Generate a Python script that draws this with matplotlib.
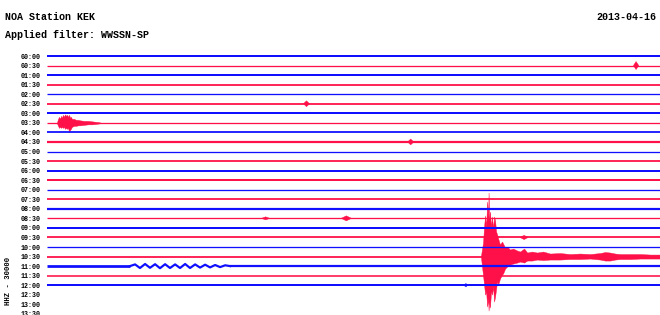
import matplotlib
matplotlib.use("Agg")
import matplotlib.pyplot as plt

# ---------- Data ----------
# one trace per half hour, 00:00 .. 12:00 recorded, labels run to 13:30
row_labels = ["00:00", "00:30", "01:00", "01:30", "02:00", "02:30", "03:00",
              "03:30", "04:00", "04:30", "05:00", "05:30", "06:00", "06:30",
              "07:00", "07:30", "08:00", "08:30", "09:00", "09:30", "10:00",
              "10:30", "11:00", "11:30", "12:00", "12:30", "13:00", "13:30"]
n_traces = 25

# visual noise band of each trace (px)
trace_noise = [2.0, 1.3, 2.0, 1.8, 1.3, 1.8, 2.0, 1.3, 1.8, 2.2, 1.3, 1.8, 2.0,
               2.0, 1.3, 1.8, 2.2, 1.3, 2.0, 1.8, 1.3, 1.8, 2.2, 1.6, 2.0]

# amplitudes below are given in counts where one trace spacing = 9.55
TRACE_STEP = 9.55

# big event on the 10:30 trace (minutes into the row)
quake_t = [21.24, 21.34, 21.39, 21.44, 21.49, 21.54, 21.59, 21.61, 21.64,
           21.68, 21.73, 21.78, 21.83, 21.88, 21.93, 21.98, 22.03, 22.08,
           22.17, 22.27, 22.32, 22.42, 22.52, 22.66, 22.81, 23.01, 23.15,
           23.35, 23.50, 23.74, 23.98, 24.28, 24.62, 25.11, 25.60, 26.09,
           26.58, 27.07, 27.31, 27.56, 27.80, 28.05, 28.54, 29.03, 29.52, 30.0]
quake_up = [1, 14, 30, 41, 30, 55, 40, 64, 38, 45, 30, 40, 28, 40, 36, 25, 22,
            18, 12, 15, 13, 9, 10, 7, 8, 6, 5, 8, 4, 5, 4, 5, 3, 3.5, 2.5, 3,
            2.5, 3.5, 4.5, 4, 3, 2.5, 2.5, 2.5, 2, 2]
quake_down = [1, 19, 28, 38, 35, 50, 42, 54, 45, 51, 35, 38, 30, 45, 40, 32,
              25, 28, 22, 18, 17, 12, 10, 8, 7, 6, 5, 6, 4, 4, 3, 3.5, 3, 3,
              2.5, 2.5, 2, 3, 4, 4, 3, 2.5, 2.5, 2, 2, 2]

# local event on the 03:30 trace
local_t = [0.49, 0.54, 0.59, 0.64, 0.69, 0.73, 0.78, 0.83, 0.88, 0.93, 0.98,
           1.03, 1.08, 1.13, 1.17, 1.22, 1.32, 1.42, 1.52, 1.62, 1.81, 2.01,
           2.20, 2.40, 2.59]
local_up = [0.5, 4, 6, 4, 7, 5, 8, 6, 8.5, 7, 8, 6, 8, 5, 6, 4, 4, 3, 3, 2.5,
            2, 2, 1.5, 1, 0.5]
local_down = [0.5, 3, 5, 4, 5, 4, 5, 4, 6, 5, 6, 5, 9, 7, 6, 4, 3, 3, 2.5,
              2.5, 2, 1.5, 1.5, 1, 0.5]

# small spikes: trace, start, end, amplitude
spike_row = [1, 5, 9, 17, 17, 19, 24]
spike_t0 = [28.70, 12.55, 17.65, 14.40, 10.50, 23.15, 20.40]
spike_t1 = [28.96, 12.85, 17.95, 14.90, 10.90, 23.55, 20.60]
spike_amp = [4.0, 2.9, 2.9, 2.5, 1.5, 2.1, 1.7]

# long-period wiggle on the 11:00 trace
wave_t = [4.06, 4.31, 4.55, 4.80, 5.04, 5.29, 5.53, 5.78, 6.02, 6.27, 6.51,
          6.76, 7.00, 7.25, 7.49, 7.74, 7.98, 8.23, 8.47, 8.72, 8.96]
wave_y = [0.0, 1.7, -1.9, 2.1, -1.7, 1.9, -2.1, 1.9, -1.9, 1.7, -1.9, 2.1,
          -1.9, 1.7, -1.5, 1.4, -1.3, 1.1, -1.0, 0.8, 0.0]

BLUE = "#1010ff"
RED = "#ff1048"
MONO = "Liberation Mono"

fig = plt.figure(figsize=(6.6, 3.15), dpi=100)
ax = fig.add_axes([47 / 660, 0, 613 / 660, 1])
ax.set_xlim(0, 30)
ax.set_ylim(27.12, -5.864)


def scaled(vals):
    return [v / TRACE_STEP for v in vals]


for i in range(n_traces):
    col = BLUE if i % 2 == 0 else RED
    lw = trace_noise[i] * 0.72
    if i == 22:
        ax.plot([0, wave_t[0]], [i, i], color=col, lw=lw + 0.4, solid_capstyle="butt")
        ax.plot(wave_t, [i - v for v in scaled(wave_y)], color=col, lw=lw)
        ax.plot([wave_t[-1], 30], [i, i], color=col, lw=lw, solid_capstyle="butt")
    else:
        ax.plot([0, 30], [i, i], color=col, lw=lw, solid_capstyle="butt")
    if i == 7:
        ax.fill_between(local_t, [i - u for u in scaled(local_up)],
                        [i + d for d in scaled(local_down)], color=col, lw=0.3)
    if i == 21:
        ax.fill_between(quake_t, [i - u for u in scaled(quake_up)],
                        [i + d for d in scaled(quake_down)], color=col, lw=0.3)
    for r, a, b, amp in zip(spike_row, spike_t0, spike_t1, scaled(spike_amp)):
        if r == i:
            mid = (a + b) / 2
            ax.fill([a, mid, b, mid], [i, i - amp, i, i + amp], color=col, lw=0.3)

ax.set_yticks(range(len(row_labels)))
ax.set_yticklabels(row_labels, fontfamily=MONO, fontsize=4.8, fontweight="bold")
ax.tick_params(axis="y", length=0, pad=4.5)
ax.set_xticks([])
for s in ax.spines.values():
    s.set_visible(False)

title_kw = dict(fontfamily=MONO, fontsize=7.2, fontweight="bold", va="center", ha="left")
fig.text(5 / 660, 1 - 17 / 315, "NOA Station KEK", **title_kw)
fig.text(5 / 660, 1 - 35 / 315, "Applied filter: WWSSN-SP", **title_kw)
fig.text(596 / 660, 1 - 17 / 315, "2013-04-16", **title_kw)
fig.text(9 / 660, 1 - 281 / 315, "HHZ - 30000", fontfamily=MONO, fontsize=5.2,
         fontweight="bold", va="center", ha="center", rotation=90)

fig.savefig("out.png", dpi=100)
